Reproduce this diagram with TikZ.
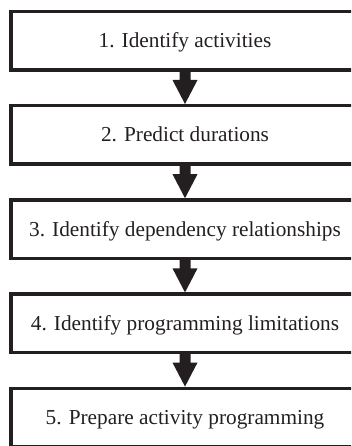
\documentclass[tikz,border=0pt]{standalone}
\usepackage{fontspec}
\setmainfont{Liberation Serif}
\usetikzlibrary{calc}
\definecolor{ink}{HTML}{231F20}
\tikzset{
  stepbox/.style={draw=ink, line width=3.4pt, rectangle, minimum width=348pt,
    minimum height=58.5pt, inner sep=0pt, text=ink,
    font=\fontsize{21.3pt}{24pt}\selectfont, text height=14pt, text depth=0pt},
  flowarrow/.style={fill=ink}
}
\newcommand{\flowarrow}[2]{%
  \fill[flowarrow] ($(#1.south)+(-5.5pt,1.5pt)$) -- ($(#1.south)+(5.5pt,1.5pt)$)
    -- ($(#2.north)+(5.5pt,24pt)$) -- ($(#2.north)+(12.5pt,24pt)$)
    -- (#2.north) -- ($(#2.north)+(-12.5pt,24pt)$)
    -- ($(#2.north)+(-5.5pt,24pt)$) -- cycle;}
\begin{document}
\begin{tikzpicture}
\useasboundingbox (0,0) rectangle (351pt,-446pt);
\clip (0,0) rectangle (351pt,-446pt);
\node[stepbox] (s1) at (185pt,-40.75pt) {1. Identify activities};
\node[stepbox] (s2) at (185pt,-134.95pt) {2. Predict durations};
\node[stepbox] (s3) at (185pt,-229.15pt) {3. Identify dependency relationships};
\node[stepbox] (s4) at (185pt,-323.35pt) {4. Identify programming limitations};
\node[stepbox] (s5) at (185pt,-417.55pt) {5. Prepare activity programming};
\flowarrow{s1}{s2}
\flowarrow{s2}{s3}
\flowarrow{s3}{s4}
\flowarrow{s4}{s5}
\end{tikzpicture}
\end{document}
